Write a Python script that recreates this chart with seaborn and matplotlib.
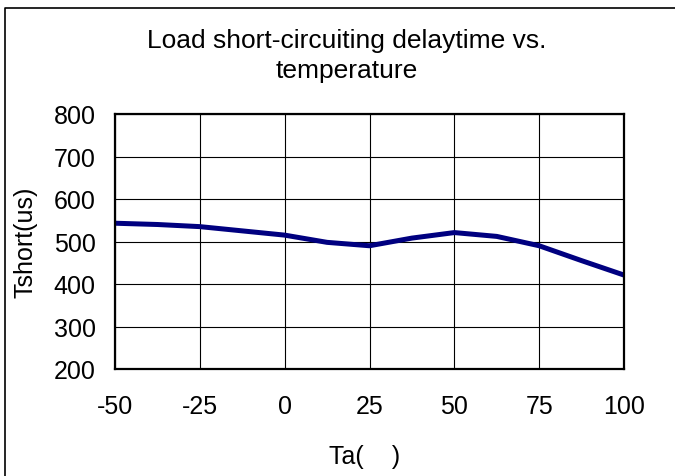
import pandas as pd
import numpy as np
import seaborn as sns
import matplotlib.pyplot as plt
from matplotlib.lines import Line2D


# values (every 12.5 degC)
temp = [-50, -37.5, -25, -12.5, 0, 12.5, 25, 37.5, 50, 62.5, 75, 87.5, 100]
tshort = [543, 540, 535, 525, 515, 498, 490, 508, 521, 512, 490, 455, 421]
xticks = [-50, -25, 0, 25, 50, 75, 100]
yticks = [200, 300, 400, 500, 600, 700, 800]

df = pd.DataFrame({"Ta": temp, "Tshort": tshort})

sns.set_style("white")
plt.rcParams["font.family"] = ["Liberation Sans", "DejaVu Sans"]
plt.rcParams["axes.unicode_minus"] = False
plt.rcParams["text.color"] = "black"
plt.rcParams["axes.labelcolor"] = "black"

fig = plt.figure(figsize=(6.75, 4.77), dpi=100)
ax = fig.add_axes([115 / 675, 1 - 370 / 477, 509 / 675, 255 / 477])

sns.lineplot(data=df, x="Ta", y="Tshort", ax=ax, color="#000080", linewidth=3.6)

ax.set_xlim(-50, 100)
ax.set_ylim(200, 800)
ax.set_xticks(xticks)
ax.set_yticks(yticks)
ax.grid(True, color="black", linewidth=0.8)
for s in ax.spines.values():
    s.set_color("black")
    s.set_linewidth(1.6)
ax.tick_params(axis="both", length=0, labelsize=18, colors="black")
ax.tick_params(axis="x", pad=18)
ax.tick_params(axis="y", pad=14)

ax.set_xlabel("Ta(    )", fontsize=18, va="center")
ax.xaxis.set_label_coords(0.49, (370 - 457) / 255)
ax.set_ylabel("Tshort(us)", fontsize=18, va="center")
ax.yaxis.set_label_coords((26 - 115) / 509, 0.5)

fig.text(347 / 675, 1 - 56 / 477, "Load short-circuiting delaytime vs.\ntemperature",
         ha="center", va="center", fontsize=19, linespacing=1.3)

# chart area frame (only left and top edge visible)
fig.add_artist(Line2D([4.5 / 675, 4.5 / 675, 1.01], [-0.01, 1 - 9 / 477, 1 - 9 / 477],
                      transform=fig.transFigure, color="black", linewidth=1.2))

plt.savefig("out.png", dpi=100)
